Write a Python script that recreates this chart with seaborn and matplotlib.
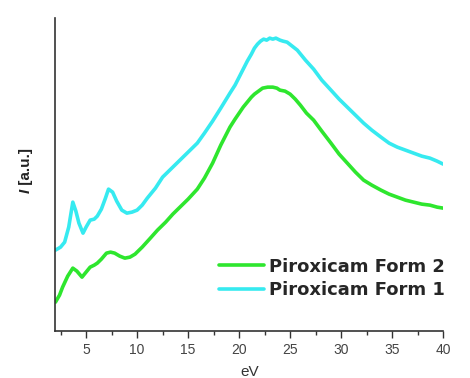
import numpy as np
import pandas as pd
import matplotlib
matplotlib.use("Agg")
import matplotlib.pyplot as plt
import seaborn as sns
from matplotlib.ticker import MultipleLocator

# Energy (eV) and intensity (arbitrary units)
ev_form1 = [2.0, 2.5, 2.9, 3.3, 3.7, 4.0, 4.3, 4.7, 5.0, 5.4, 5.8, 6.1, 6.5, 6.9, 7.2, 7.6,
            8.0, 8.5, 9.0, 9.5, 10.0, 10.5, 11.0, 11.8, 12.5, 13.3, 14.2, 15.0, 15.9, 16.6,
            17.4, 18.2, 19.1, 19.6, 20.0, 20.4, 20.8, 21.2, 21.5, 21.8, 22.1, 22.4, 22.7,
            23.0, 23.3, 23.6, 24.0, 24.3, 24.7, 25.2, 25.7, 26.5, 27.3, 28.1, 29.0, 29.8,
            30.6, 31.4, 32.2, 33.0, 33.9, 34.7, 35.5, 36.3, 37.1, 37.9, 38.7, 39.4, 40.0]
int_form1 = [81, 84, 89, 104, 129, 120, 108, 98, 104, 111, 112, 115, 122, 133, 142, 139,
             130, 121, 118, 119, 121, 126, 133, 143, 154, 162, 171, 179, 188, 198,
             210, 223, 238, 246, 254, 262, 270, 277, 283, 287, 290, 292, 291,
             293, 292, 293, 291, 290, 289, 285, 281, 271, 262, 251, 241, 232,
             224, 216, 208, 201, 194, 188, 184, 181, 178, 175, 173, 170, 167]

ev_form2 = [2.0, 2.4, 2.7, 3.2, 3.7, 4.1, 4.6, 5.0, 5.4, 5.8, 6.1, 6.5, 7.0, 7.4, 7.8, 8.3,
            8.8, 9.3, 9.8, 10.5, 11.3, 12.0, 12.8, 13.5, 14.2, 15.0, 15.9, 16.6, 17.4, 18.2,
            19.1, 19.6, 20.0, 20.4, 20.8, 21.2, 21.5, 21.9, 22.3, 22.8, 23.3, 23.7, 24.0,
            24.5, 25.0, 25.5, 26.0, 26.6, 27.3, 28.1, 29.0, 29.8, 30.6, 31.4, 32.2, 33.0,
            33.9, 34.7, 35.5, 36.3, 37.1, 37.9, 38.7, 39.4, 40.0]
int_form2 = [29, 36, 44, 55, 63, 60, 54, 59, 64, 66, 68, 72, 78, 79, 78, 75,
             73, 74, 77, 84, 93, 101, 109, 117, 124, 132, 142, 153, 168, 186,
             204, 212, 218, 224, 229, 234, 237, 240, 243, 244, 244, 243, 241,
             240, 237, 232, 226, 218, 211, 200, 188, 177, 168, 159, 151, 146,
             141, 137, 134, 131, 129, 127, 126, 124, 123]

labels = ["Piroxicam Form 2", "Piroxicam Form 1"]
colors = ["#2ee62e", "#36eaf0"]

df = pd.concat([
    pd.DataFrame({"eV": ev_form2, "I": int_form2, "series": labels[0]}),
    pd.DataFrame({"eV": ev_form1, "I": int_form1, "series": labels[1]}),
])

sns.set_style("white")
plt.rcParams["font.family"] = ["Liberation Sans", "DejaVu Sans"]

fig = plt.figure(figsize=(4.7, 3.78), dpi=100)
ax = fig.add_axes([0.118, 0.124, 0.825, 0.828])

sns.lineplot(data=df, x="eV", y="I", hue="series", hue_order=labels,
             palette=colors, linewidth=2.6, ax=ax, sort=True, estimator=None)

ax.set_xlim(2, 40)
ax.set_ylim(0, 313)
ax.xaxis.set_major_locator(MultipleLocator(5))
ax.xaxis.set_minor_locator(MultipleLocator(2.5))
ax.set_yticks([])
ax.tick_params(axis="x", which="major", direction="out", length=5, width=1,
               color="#333333", labelsize=10, labelcolor="#444444", bottom=True)
ax.tick_params(axis="x", which="minor", direction="out", length=3, width=1,
               color="#333333", bottom=True)
for s in ["top", "right"]:
    ax.spines[s].set_visible(False)
for s in ["left", "bottom"]:
    ax.spines[s].set_color("#333333")
    ax.spines[s].set_linewidth(1.2)

ax.set_xlabel("eV", fontsize=11, color="#333333", labelpad=6)
ax.set_ylabel("")
fig.text(0.055, 0.50, "I", rotation=90, fontsize=11, fontweight="bold", style="italic",
         ha="center", va="top", color="#222222")
fig.text(0.055, 0.50, " [a.u.]", rotation=90, fontsize=11, fontweight="bold",
         ha="center", va="bottom", color="#222222")

leg = ax.legend(loc="lower right", bbox_to_anchor=(1.045, 0.05), frameon=False,
                prop={"family": "DejaVu Sans", "weight": "bold", "size": 13},
                handlelength=2.5, handletextpad=0.25, labelspacing=0.3)
for line in leg.get_lines():
    line.set_linewidth(2.6)

fig.savefig("out.png", dpi=100, facecolor="white")
